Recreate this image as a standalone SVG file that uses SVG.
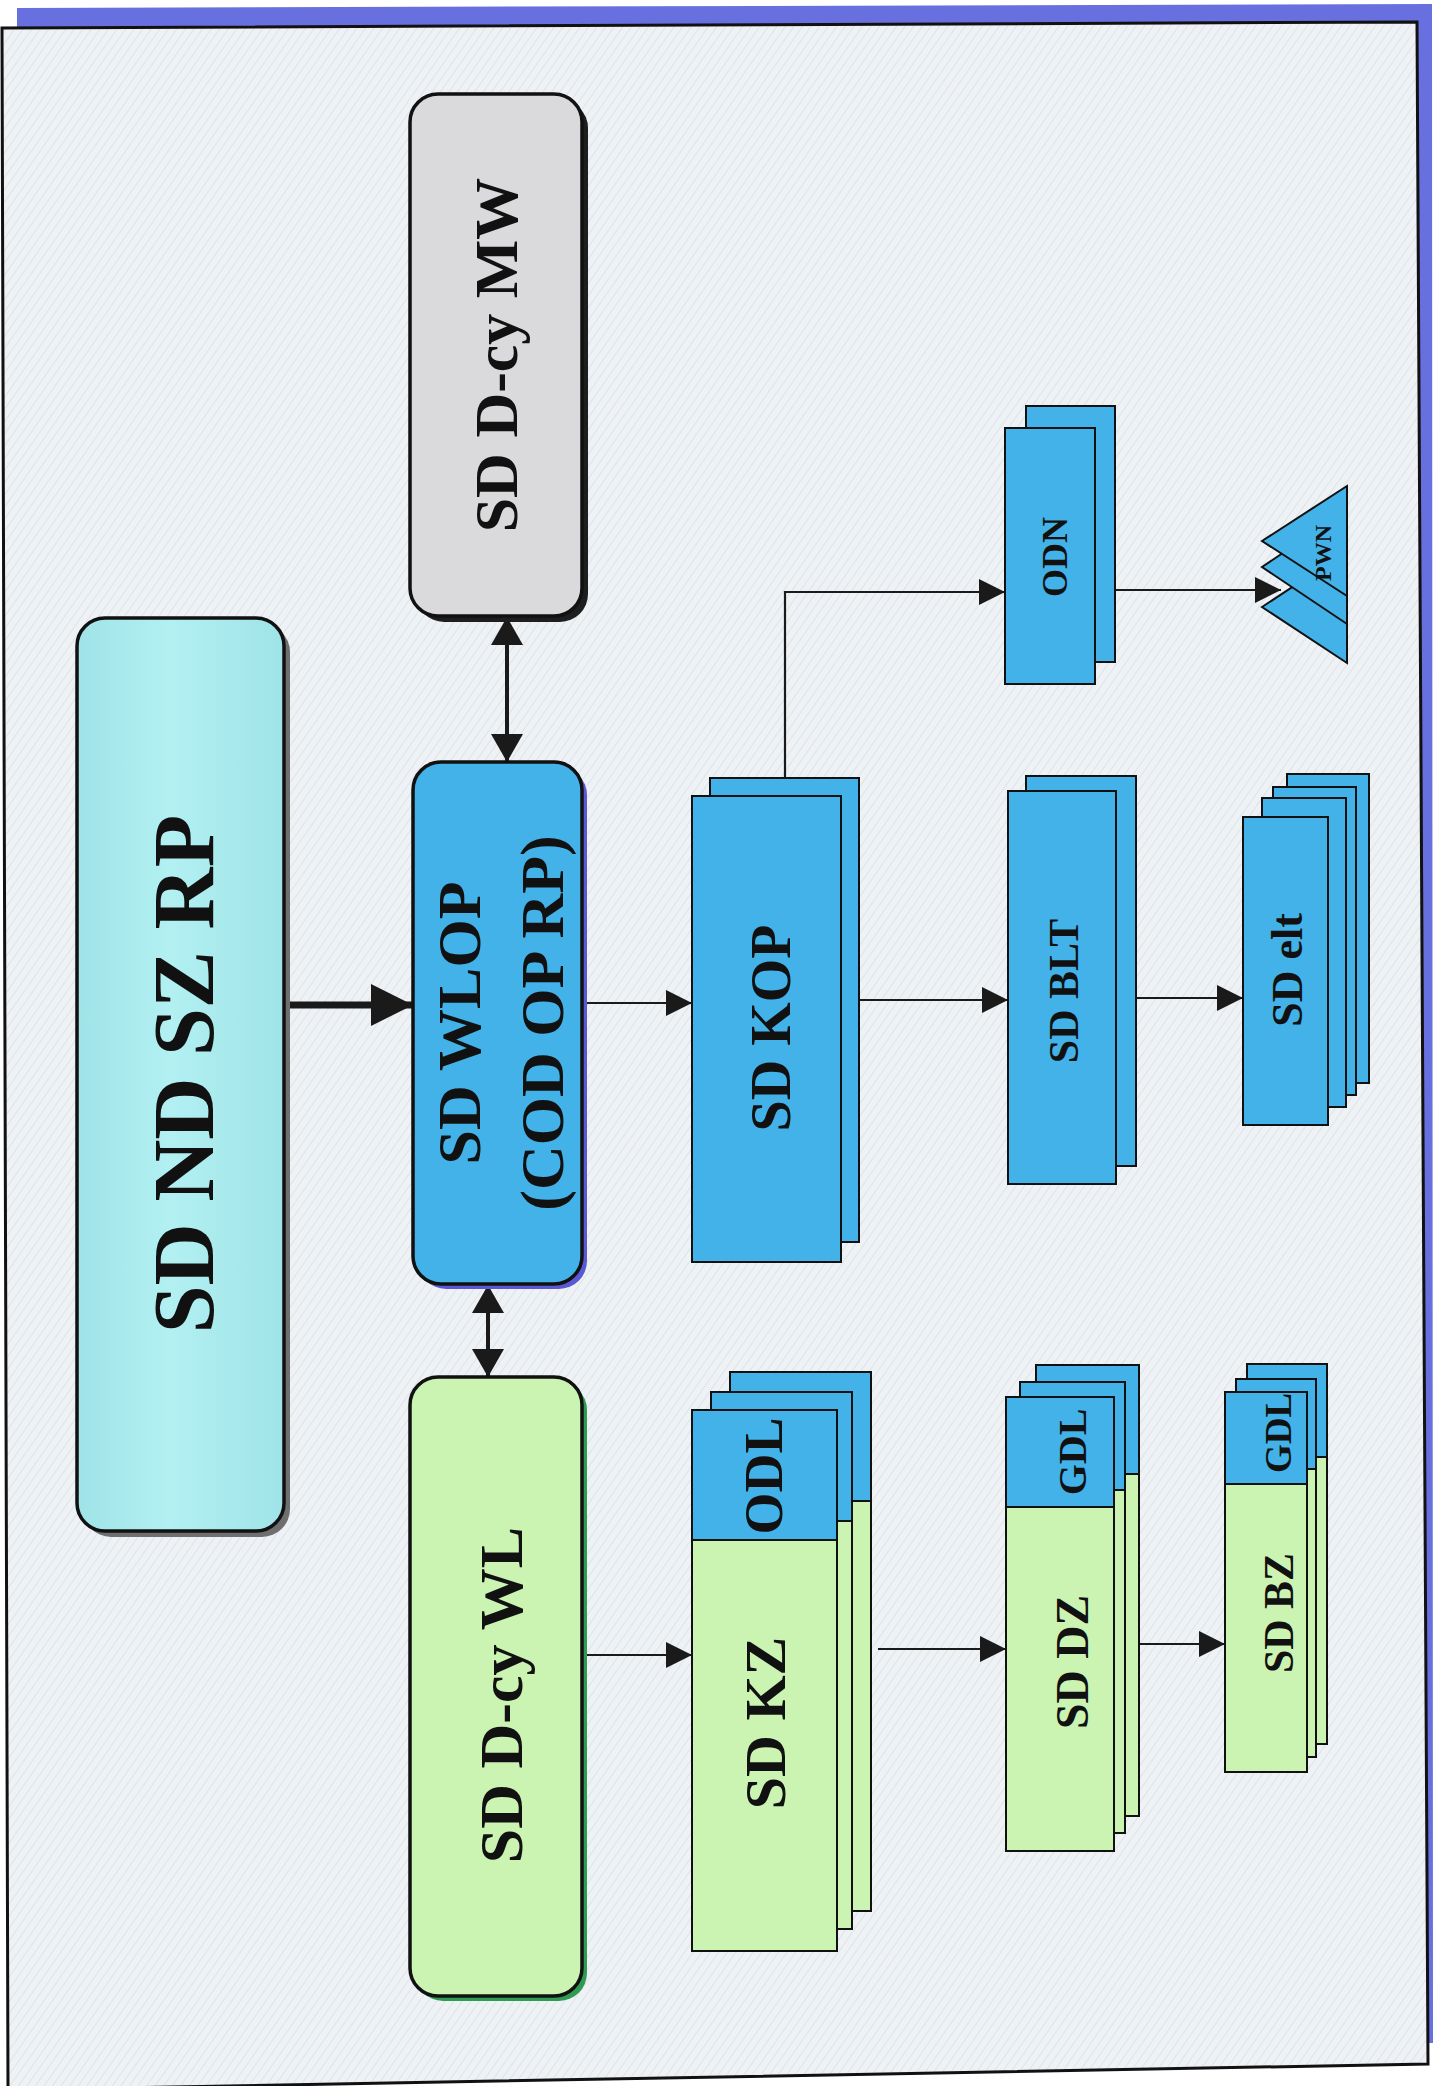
<svg xmlns="http://www.w3.org/2000/svg" width="1437" height="2086" viewBox="0 0 1437 2086">
<defs>
<style>
.t{font-family:"Liberation Serif","Times New Roman",serif;font-weight:bold;fill:#111;text-anchor:middle}
.box{stroke:#111;stroke-width:2}
.rbox{stroke:#111;stroke-width:3.5}
.blue{fill:#42b2e9}
.green{fill:#cbf4b3}
.ln{stroke:#1a1a1a;stroke-width:2.2;fill:none}
.bi{stroke:#1a1a1a;stroke-width:4;fill:none}
</style>
<pattern id="hatch" width="7" height="7" patternUnits="userSpaceOnUse" patternTransform="rotate(35)">
<rect width="7" height="7" fill="#eef2f5"/>
<line x1="0" y1="0" x2="0" y2="7" stroke="#dde3ea" stroke-width="2"/>
</pattern>
<linearGradient id="cyan" x1="0" y1="0" x2="1" y2="0">
<stop offset="0" stop-color="#9fe3e8"/>
<stop offset="0.45" stop-color="#b2f0f2"/>
<stop offset="1" stop-color="#9fe3e8"/>
</linearGradient>
<marker id="ah" markerUnits="userSpaceOnUse" markerWidth="28" markerHeight="26" refX="26" refY="13" orient="auto-start-reverse" viewBox="0 0 28 26">
<path d="M0,0 L26,13 L0,26 Z" fill="#1a1a1a"/>
</marker>
<marker id="ahb" markerUnits="userSpaceOnUse" markerWidth="30" markerHeight="32" refX="28" refY="16" orient="auto-start-reverse" viewBox="0 0 30 32">
<path d="M0,0 L28,16 L0,32 Z" fill="#1a1a1a"/>
</marker>
<marker id="ahbig" markerUnits="userSpaceOnUse" markerWidth="44" markerHeight="42" refX="42" refY="21" orient="auto" viewBox="0 0 44 42">
<path d="M0,0 L42,21 L0,42 Z" fill="#1a1a1a"/>
</marker>
</defs>

<rect width="1437" height="2086" fill="#ffffff"/>
<!-- blue band -->
<polygon points="17,8 1432,4 1433,2043 1417,2043 1417,24 17,27" fill="#6870e0"/>
<!-- panel -->
<polygon points="2,28 1417,22 1428,2064 8,2090" fill="url(#hatch)" stroke="#111" stroke-width="3"/>

<g id="connectors">
<line class="ln" x1="284" y1="1005" x2="413" y2="1005" style="stroke-width:7" marker-end="url(#ahbig)"/>
<line class="bi" x1="507" y1="617" x2="507" y2="762" marker-start="url(#ahb)" marker-end="url(#ahb)"/>
<line class="bi" x1="488" y1="1285" x2="488" y2="1377" marker-start="url(#ahb)" marker-end="url(#ahb)"/>
<line class="ln" x1="583" y1="1003" x2="692" y2="1003" marker-end="url(#ah)"/>
<line class="ln" x1="859" y1="1000" x2="1008" y2="1000" marker-end="url(#ah)"/>
<line class="ln" x1="1136" y1="998" x2="1243" y2="998" marker-end="url(#ah)"/>
<path class="ln" d="M785,778 V592 H1005" marker-end="url(#ah)"/>
<line class="ln" x1="1115" y1="590" x2="1281" y2="590" marker-end="url(#ah)"/>
<line class="ln" x1="583" y1="1655" x2="692" y2="1655" marker-end="url(#ah)"/>
<line class="ln" x1="878" y1="1649" x2="1006" y2="1649" marker-end="url(#ah)"/>
<line class="ln" x1="1139" y1="1644" x2="1225" y2="1644" marker-end="url(#ah)"/>
</g>

<g id="nd-sz-rp">
<rect x="83" y="624" width="207" height="913" rx="28" fill="#6f6f6f"/>
<rect class="rbox" x="77" y="618" width="207" height="913" rx="28" fill="url(#cyan)"/>
<text class="t" font-size="86" transform="translate(183,1074) rotate(-90)" dy="0.35em">SD ND SZ RP</text>
</g>

<g id="sd-dcy-mw">
<rect x="416" y="100" width="172" height="522" rx="28" fill="#1e1e1e"/>
<rect class="rbox" x="410" y="94" width="172" height="522" rx="28" fill="#dadadc"/>
<text class="t" font-size="62" transform="translate(495,355) rotate(-90)" dy="0.35em">SD D-cy MW</text>
</g>

<g id="sd-wlop">
<rect x="418" y="767" width="169" height="522" rx="28" fill="#5b58d6"/>
<rect class="rbox" x="413" y="762" width="169" height="522" rx="28" fill="#42b2e9"/>
<text class="t" font-size="62" transform="translate(458,1023) rotate(-90)" dy="0.35em">SD WLOP</text>
<text class="t" font-size="62" transform="translate(541,1023) rotate(-90)" dy="0.35em">(COD OP RP)</text>
</g>

<g id="sd-dcy-wl">
<rect x="415" y="1382" width="172" height="619" rx="28" fill="#2e9a52"/>
<rect class="rbox" x="410" y="1377" width="172" height="619" rx="28" fill="#cbf4b3"/>
<text class="t" font-size="62" transform="translate(500,1695) rotate(-90)" dy="0.35em">SD D-cy WL</text>
</g>

<g id="sd-kop">
<rect class="box blue" x="710" y="778" width="149" height="464"/>
<rect class="box blue" x="692" y="796" width="149" height="466"/>
<text class="t" font-size="56" transform="translate(770,1028) rotate(-90)" dy="0.35em">SD KOP</text>
</g>

<g id="sd-blt">
<rect class="box blue" x="1026" y="776" width="110" height="390"/>
<rect class="box blue" x="1008" y="791" width="108" height="393"/>
<text class="t" font-size="42" transform="translate(1063,991) rotate(-90)" dy="0.35em">SD BLT</text>
</g>

<g id="sd-elt">
<rect class="box blue" x="1287" y="774" width="82" height="309"/>
<rect class="box blue" x="1273" y="787" width="83" height="308"/>
<rect class="box blue" x="1262" y="798" width="84" height="309"/>
<rect class="box blue" x="1243" y="817" width="85" height="308"/>
<text class="t" font-size="44" transform="translate(1287,970) rotate(-90)" dy="0.35em">SD elt</text>
</g>

<g id="odn">
<rect class="box blue" x="1026" y="406" width="89" height="256"/>
<rect class="box blue" x="1005" y="428" width="90" height="256"/>
<text class="t" font-size="36" transform="translate(1054,557) rotate(-90)" dy="0.35em">ODN</text>
</g>

<g id="pwn">
<polygon class="box blue" points="1262,607 1347,551 1347,663"/>
<polygon class="box blue" points="1262,567 1347,510 1347,624"/>
<polygon class="box blue" points="1262,541 1347,486 1347,596"/>
<text class="t" font-size="24" transform="translate(1323,553) rotate(-90)" dy="0.35em">PWN</text>
</g>

<g id="sd-kz">
<rect class="box green" x="730" y="1372" width="141" height="539"/>
<rect class="box blue" x="730" y="1372" width="141" height="129"/>
<rect class="box green" x="711" y="1392" width="141" height="537"/>
<rect class="box blue" x="711" y="1392" width="141" height="129"/>
<rect class="box green" x="692" y="1410" width="145" height="541"/>
<rect class="box blue" x="692" y="1410" width="145" height="130"/>
<text class="t" font-size="54" transform="translate(763,1476) rotate(-90)" dy="0.35em">ODL</text>
<text class="t" font-size="58" transform="translate(765,1723) rotate(-90)" dy="0.35em">SD KZ</text>
</g>

<g id="sd-dz">
<rect class="box green" x="1036" y="1365" width="103" height="451"/>
<rect class="box blue" x="1036" y="1365" width="103" height="109"/>
<rect class="box green" x="1020" y="1382" width="105" height="451"/>
<rect class="box blue" x="1020" y="1382" width="105" height="108"/>
<rect class="box green" x="1006" y="1397" width="108" height="454"/>
<rect class="box blue" x="1006" y="1397" width="108" height="110"/>
<text class="t" font-size="40" transform="translate(1072,1452) rotate(-90)" dy="0.35em">GDL</text>
<text class="t" font-size="46" transform="translate(1072,1662) rotate(-90)" dy="0.35em">SD DZ</text>
</g>

<g id="sd-bz">
<rect class="box green" x="1247" y="1364" width="80" height="380"/>
<rect class="box blue" x="1247" y="1364" width="80" height="93"/>
<rect class="box green" x="1236" y="1379" width="80" height="378"/>
<rect class="box blue" x="1236" y="1379" width="80" height="90"/>
<rect class="box green" x="1225" y="1392" width="82" height="380"/>
<rect class="box blue" x="1225" y="1392" width="82" height="92"/>
<text class="t" font-size="37" transform="translate(1278,1433) rotate(-90)" dy="0.35em">GDL</text>
<text class="t" font-size="42" transform="translate(1278,1613) rotate(-90)" dy="0.35em">SD BZ</text>
</g>
</svg>
